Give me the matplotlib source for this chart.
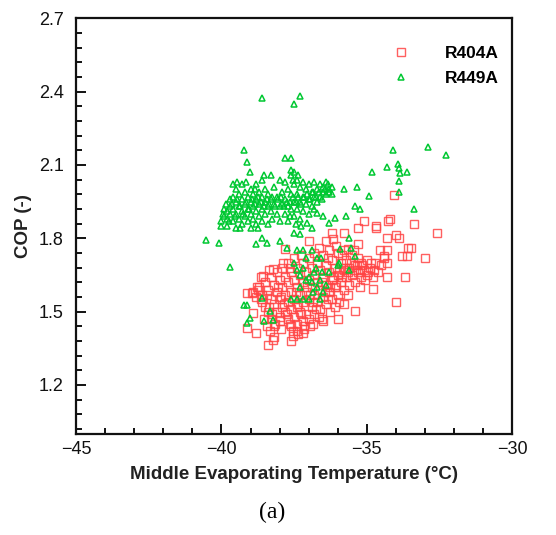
import matplotlib
matplotlib.use("Agg")
import matplotlib.pyplot as plt
from matplotlib.ticker import MultipleLocator

# ---------------- data ----------------
r404a_x = [
    # core
    -38.9, -38.8, -38.7, -38.6, -38.6, -38.5, -38.5, -38.4, -38.4, -38.3, -38.3, -38.3,
    -38.2, -38.2, -38.2, -38.1, -38.1, -38.1, -38.0, -38.0, -38.0,
    -37.9, -37.9, -37.9, -37.8, -37.8, -37.8, -37.7, -37.7, -37.7, -37.7,
    -37.6, -37.6, -37.6, -37.6, -37.5, -37.5, -37.5, -37.5, -37.4, -37.4, -37.4, -37.4,
    -37.3, -37.3, -37.3, -37.2, -37.2, -37.2, -37.2, -37.1, -37.1, -37.1,
    -37.0, -37.0, -37.0, -37.0,
    -36.9, -36.9, -36.9, -36.8, -36.8, -36.8, -36.8, -36.7, -36.7, -36.7,
    -36.6, -36.6, -36.6, -36.5, -36.5, -36.5, -36.4, -36.4, -36.4,
    -36.3, -36.3, -36.3, -36.2, -36.2, -36.2, -36.1, -36.1, -36.1, -36.0, -36.0, -36.0,
    -35.9, -35.9, -35.8, -35.8, -35.8, -35.7, -35.7, -35.6, -35.6, -35.5, -35.5,
    -35.4, -35.4, -35.3, -35.3, -35.2, -35.2, -35.1, -35.0, -35.0,
    -34.9, -34.8, -34.7, -34.6, -34.5, -34.4, -34.3,
    # core, in between
    -38.75, -38.65, -38.45, -38.35, -38.25, -38.15, -38.05, -37.95, -37.85, -37.75,
    -37.65, -37.55, -37.45, -37.35, -37.25, -37.15, -37.05, -36.95, -36.85, -36.75,
    -36.65, -36.55, -36.45, -36.35, -36.25, -36.15, -36.05, -35.95, -35.85, -35.75,
    -35.65, -35.55, -35.45, -35.35, -35.25, -35.15, -35.05, -34.95, -34.85, -34.75,
    -38.55, -38.45, -37.95, -37.55, -37.35, -37.15, -36.85, -36.55, -36.25, -35.95,
    -35.65, -36.05, -36.35, -36.65, -35.85, -35.45, -37.25, -37.65, -38.35, -38.65,
    # scattered
    -34.08, -34.28, -34.20, -33.39, -32.59, -34.00, -33.88, -34.31, -35.11, -35.31,
    -34.69, -34.69, -35.80, -36.18, -36.15, -36.40, -37.00, -35.31, -35.63, -33.57,
    -33.48, -32.99, -33.60, -33.80, -34.31, -34.56, -34.42, -33.70, -34.30, -34.00,
    -34.79, -35.23, -35.39, -36.00, -35.80, -36.49, -37.60, -38.21, -38.19, -38.41,
    -38.33, -38.80, -39.12, -38.90, -37.98, -37.41, -37.21, -36.95, -39.13, -38.96,
    -38.78, -38.56, -38.21, -37.87, -37.81,
]
r404a_y = [
    1.58, 1.56, 1.60, 1.57, 1.54, 1.62, 1.52, 1.59, 1.50, 1.64, 1.55, 1.47,
    1.61, 1.53, 1.44, 1.66, 1.58, 1.50, 1.63, 1.55, 1.48,
    1.68, 1.60, 1.52, 1.64, 1.57, 1.50, 1.70, 1.62, 1.54, 1.47,
    1.66, 1.58, 1.51, 1.44, 1.72, 1.63, 1.55, 1.48, 1.68, 1.60, 1.52, 1.45,
    1.65, 1.57, 1.50, 1.70, 1.62, 1.54, 1.46, 1.66, 1.58, 1.49,
    1.72, 1.63, 1.55, 1.47,
    1.68, 1.60, 1.52, 1.74, 1.65, 1.57, 1.49, 1.70, 1.62, 1.54,
    1.67, 1.59, 1.51, 1.73, 1.64, 1.56, 1.69, 1.61, 1.53,
    1.75, 1.66, 1.58, 1.71, 1.63, 1.55, 1.68, 1.60, 1.52, 1.74, 1.65, 1.57,
    1.70, 1.62, 1.67, 1.59, 1.75, 1.64, 1.71, 1.68, 1.61, 1.73, 1.65,
    1.69, 1.62, 1.66, 1.72, 1.64, 1.70, 1.67, 1.65, 1.71,
    1.68, 1.64, 1.70, 1.66, 1.69, 1.72, 1.70,
    1.59, 1.55, 1.57, 1.52, 1.49, 1.45, 1.60, 1.56, 1.53, 1.49,
    1.45, 1.42, 1.58, 1.53, 1.49, 1.44, 1.60, 1.57, 1.54, 1.51,
    1.48, 1.62, 1.58, 1.55, 1.60, 1.64, 1.61, 1.66, 1.64, 1.68,
    1.66, 1.70, 1.67, 1.69, 1.67, 1.69, 1.63, 1.66, 1.70, 1.67,
    1.47, 1.44, 1.43, 1.40, 1.41, 1.43, 1.45, 1.47, 1.50, 1.54,
    1.57, 1.77, 1.72, 1.76, 1.73, 1.75, 1.73, 1.68, 1.67, 1.64,
    1.977, 1.87, 1.88, 1.86, 1.82, 1.812, 1.80, 1.80, 1.87, 1.842,
    1.85, 1.84, 1.82, 1.82, 1.795, 1.79, 1.79, 1.778, 1.757, 1.761,
    1.761, 1.719, 1.727, 1.727, 1.752, 1.752, 1.727, 1.641, 1.641, 1.54,
    1.591, 1.602, 1.501, 1.471, 1.532, 1.462, 1.38, 1.384, 1.396, 1.362,
    1.421, 1.411, 1.432, 1.493, 1.462, 1.421, 1.411, 1.441, 1.577, 1.577,
    1.602, 1.645, 1.673, 1.70, 1.755,
]

r449a_x = [
    # main cluster, left part
    -40.0, -40.0, -39.9, -39.9, -39.85, -39.8, -39.8, -39.8, -39.7, -39.7, -39.7,
    -39.6, -39.6, -39.6, -39.6, -39.5, -39.5, -39.5, -39.5, -39.4, -39.4, -39.4,
    -39.3, -39.3, -39.3, -39.3, -39.2, -39.2, -39.2, -39.1, -39.1, -39.1,
    -39.0, -39.0, -39.0, -39.0, -38.9, -38.9, -38.9, -38.8, -38.8, -38.8, -38.8,
    -38.7, -38.7, -38.7, -38.6, -38.6, -38.6, -38.6, -38.5, -38.5, -38.5,
    -38.4, -38.4, -38.4, -38.3, -38.3, -38.3, -38.2, -38.2, -38.1, -38.1,
    -38.0, -38.0, -38.0,
    # main cluster, right part
    -37.9, -37.9, -37.8, -37.8, -37.8, -37.7, -37.7, -37.7, -37.6, -37.6, -37.6,
    -37.5, -37.5, -37.5, -37.5, -37.4, -37.4, -37.4, -37.3, -37.3, -37.3,
    -37.2, -37.2, -37.2, -37.1, -37.1, -37.0, -37.0, -37.0, -36.9, -36.9,
    -36.8, -36.8, -36.8, -36.7, -36.7, -36.6, -36.6, -36.5, -36.5, -36.4, -36.4,
    -36.3, -36.3, -36.2, -36.2,
    # main cluster, in between
    -39.95, -39.75, -39.65, -39.55, -39.45, -39.35, -39.25, -39.15, -39.05, -38.95,
    -38.85, -38.75, -38.65, -38.55, -38.45, -38.35, -38.25, -38.15, -38.05, -37.95,
    -37.85, -37.75, -37.65, -37.55, -37.45, -37.35, -37.25, -37.15, -37.05, -36.95,
    -36.85, -36.75, -36.65, -36.55, -36.45, -36.35, -39.45, -39.15, -38.55, -38.85,
    -37.35, -37.55, -38.25, -37.65, -37.45, -37.25, -38.75, -39.35,
    # among the R404A points
    -37.5, -37.4, -37.3, -37.2, -37.1, -37.0, -36.9, -36.8, -36.7, -36.6, -36.5,
    -36.4, -36.3, -37.4, -37.2, -36.9, -36.7, -36.0, -35.6, -37.6, -37.4, -37.2,
    -37.0, -36.6, -37.3, -37.1, -36.85, -36.55, -36.75,
    # scattered
    -40.54, -40.10, -39.71, -39.23, -39.12, -39.03, -38.60, -37.50, -37.29, -37.82,
    -37.62, -37.62, -34.09, -32.90, -32.27, -34.30, -34.81, -33.93, -33.88, -33.85,
    -33.60, -33.90, -33.90, -35.32, -35.80, -34.91, -35.41, -35.22, -33.39, -35.72,
    -36.10, -36.31, -36.49, -36.71, -36.89, -37.06, -35.60, -35.92, -35.56, -35.40,
    -35.94, -36.57, -37.52, -37.29, -37.98, -37.75, -38.61, -38.81, -38.42, -39.23,
    -39.13, -39.03, -39.12, -38.52, -38.21, -38.33, -38.60,
]
r449a_y = [
    1.87, 1.85, 1.92, 1.89, 1.94, 1.91, 1.88, 1.85, 1.96, 1.93, 1.90,
    2.02, 1.97, 1.92, 1.87, 2.00, 1.95, 1.90, 1.84, 1.98, 1.93, 1.88,
    2.02, 1.96, 1.91, 1.86, 1.99, 1.94, 1.89, 1.97, 1.92, 1.87,
    2.00, 1.95, 1.90, 1.84, 1.98, 1.93, 1.88, 2.02, 1.96, 1.91, 1.86,
    1.99, 1.94, 1.89, 2.04, 1.97, 1.92, 1.87, 2.00, 1.95, 1.90,
    1.98, 1.93, 1.86, 2.06, 1.96, 1.91, 2.01, 1.94, 1.97, 1.90,
    2.04, 1.93, 1.87,
    1.99, 1.94, 2.03, 1.96, 1.90, 2.00, 1.93, 1.87, 2.06, 1.98, 1.92,
    2.07, 2.02, 1.95, 1.89, 2.04, 1.98, 1.92, 2.01, 1.95, 1.88,
    2.03, 1.97, 1.91, 2.00, 1.94, 2.02, 1.96, 1.90, 1.99, 1.93,
    2.03, 1.97, 1.92, 2.00, 1.95, 2.02, 1.97, 1.99, 2.01, 2.03, 1.98,
    2.00, 1.99, 2.01, 1.98,
    1.90, 1.87, 1.94, 1.89, 1.96, 1.93, 1.90, 1.95, 1.92, 1.96,
    1.94, 1.97, 1.95, 1.93, 1.96, 1.94, 1.97, 1.93, 1.96, 1.97,
    1.93, 1.95, 1.95, 1.97, 1.95, 1.97, 1.94, 1.97, 1.98, 1.96,
    1.99, 1.97, 1.99, 1.96, 2.00, 2.02, 2.03, 2.03, 2.06, 2.00,
    2.06, 2.04, 1.88, 1.89, 1.86, 1.85, 1.84, 1.84,
    1.70, 1.67, 1.65, 1.68, 1.72, 1.64, 1.62, 1.66, 1.60, 1.63, 1.58,
    1.61, 1.66, 1.75, 1.75, 1.75, 1.72, 1.69, 1.67, 1.55, 1.55, 1.55,
    1.55, 1.55, 1.60, 1.63, 1.58, 1.66, 1.68,
    1.793, 1.78, 1.684, 2.163, 2.11, 2.07, 2.373, 2.351, 2.38, 2.13,
    2.13, 2.08, 2.162, 2.174, 2.141, 2.092, 2.071, 2.102, 2.088, 2.068,
    2.071, 2.034, 1.99, 2.011, 2.002, 1.972, 1.933, 1.92, 1.92, 1.893,
    1.881, 1.861, 1.893, 1.904, 1.844, 1.861, 1.80, 1.757, 1.761, 1.727,
    1.70, 1.72, 1.823, 1.816, 1.789, 1.761, 1.802, 1.775, 1.782, 1.526,
    1.526, 1.475, 1.452, 1.462, 1.464, 1.502, 1.557,
]

series_labels = ["R404A", "R449A"]
x_label = "Middle Evaporating Temperature (\u00b0C)"
y_label = "COP (-)"
panel_label = "(a)"

# ---------------- figure ----------------
plt.rcParams["font.family"] = ["Liberation Sans", "DejaVu Sans"]

fig = plt.figure(figsize=(5.56, 5.35), dpi=100)
ax = fig.add_axes([0.137, 0.189, 0.784, 0.777])

ax.plot(r404a_x, r404a_y, linestyle="none", marker="s", markersize=5.8,
        markerfacecolor="none", markeredgecolor="#ff4444", markeredgewidth=1.0,
        alpha=0.85, label=series_labels[0])
ax.plot(r449a_x, r449a_y, linestyle="none", marker="^", markersize=5.0,
        markerfacecolor="none", markeredgecolor="#00c832", markeredgewidth=1.1,
        label=series_labels[1])

ax.set_xlim(-45, -30)
ax.set_ylim(1.0, 2.7)
ax.xaxis.set_major_locator(MultipleLocator(5))
ax.xaxis.set_minor_locator(MultipleLocator(1))
ax.yaxis.set_minor_locator(MultipleLocator(0.06))
ax.set_yticks([1.2, 1.5, 1.8, 2.1, 2.4, 2.7])
ax.set_yticklabels(["1.2", "1.5", "1.8", "2.1", "2.4", "2.7"])

ax.tick_params(which="both", direction="in", top=False, right=False,
               labelsize=13, width=1.4, colors="#111111")
ax.tick_params(which="major", length=7.5)
ax.tick_params(axis="y", which="major", pad=9)
ax.tick_params(axis="x", which="major", pad=5)
ax.tick_params(which="minor", length=4)
for s in ax.spines.values():
    s.set_linewidth(1.6)
    s.set_color("#111111")

ax.set_xlabel(x_label, fontsize=13.5, fontweight="bold", labelpad=6, color="#222222")
ax.set_ylabel(y_label, fontsize=13.5, fontweight="bold", labelpad=5, color="#222222")

leg = ax.legend(loc="upper right", bbox_to_anchor=(0.985, 0.95), frameon=False,
                prop={"weight": "bold", "size": 12.5}, handletextpad=2.0,
                labelspacing=0.55, handlelength=1.0, borderaxespad=0.0)

fig.text(0.489, 0.043, panel_label, ha="center", va="center", fontsize=17,
         family=["Liberation Serif", "DejaVu Serif"])

fig.savefig("out.png", dpi=100)
